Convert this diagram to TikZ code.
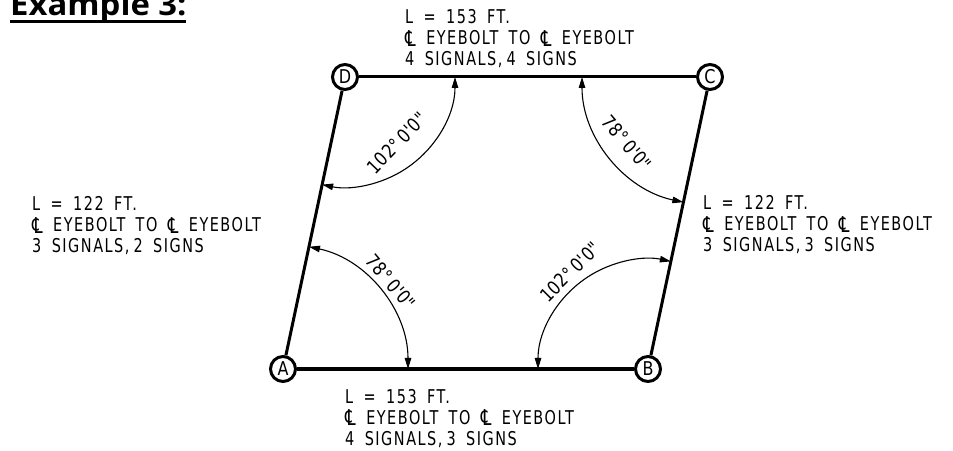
\documentclass[tikz,border=0pt]{standalone}
\usepackage{fontspec}
\usetikzlibrary{arrows.meta,calc}
\setmainfont{Liberation Sans}
\newfontfamily\cadfont[FakeStretch=0.76,LetterSpace=8,WordSpace=1.7]{DejaVu Sans}
\newfontfamily\anglefont[FakeStretch=0.84,LetterSpace=2]{DejaVu Sans}
\newfontfamily\titlefont[FakeStretch=1.06]{Open Sans}
\newcommand{\clsym}{\raisebox{-1.5pt}{\scalebox{1.15}{\char"2104\relax}}}
\tikzset{
  x=1pt,y=1pt,
  cadtext/.style={anchor=base west,inner sep=0pt,font=\cadfont\fontsize{19}{21}\selectfont,text=black},
  anglabel/.style={inner sep=0pt,font=\anglefont\fontsize{19}{21}\selectfont},
  corner/.style={circle,draw=black,line width=3pt,fill=white,minimum size=25pt,inner sep=0pt,font=\anglefont\fontsize{19}{21}\selectfont},
  member/.style={draw=black,line width=3pt},
  dimarc/.style={draw=black,line width=1.1pt,{Stealth[length=11pt,width=6.5pt,inset=0pt]}-{Stealth[length=11pt,width=6.5pt,inset=0pt]}},
}
\begin{document}
\begin{tikzpicture}
\useasboundingbox (0,0) rectangle (953,450);
\node[corner] (A) at (283,81) {A};
\node[corner] (B) at (648,81) {B};
\node[corner] (C) at (710,373) {C};
\node[corner] (D) at (345,373) {D};
\draw[member] (A) -- (B);
\draw[member] (B) -- (C);
\draw[member] (C) -- (D);
\draw[member] (D) -- (A);
\draw[dimarc] ($(A.center)+(0:125)$) arc[start angle=0,end angle=78,radius=125];
\draw[dimarc] ($(B.center)+(180:110)$) arc[start angle=180,end angle=78,radius=110];
\draw[dimarc] ($(C.center)+(180:128)$) arc[start angle=180,end angle=258,radius=128];
\draw[dimarc] ($(D.center)+(0:110)$) arc[start angle=0,end angle=-102,radius=110];
\node[anglabel,rotate=-50] (la) at (391,168) {78°\,0'0"};
\node[anglabel,rotate=45] (lb) at (570,178) {102°\,0'0"};
\node[anglabel,rotate=-50] (lc) at (627,307) {78°\,0'0"};
\node[anglabel,rotate=46] (ld) at (397,307) {102°\,0'0"};
\node[cadtext] (t1) at (405,426) {L = 153 FT.};
\node[cadtext] (t2) at (405,405) {\clsym{} EYEBOLT TO \clsym{} EYEBOLT};
\node[cadtext] (t3) at (405,384) {4 SIGNALS,\hspace{4pt}4 SIGNS};
\node[cadtext] (l1) at (32,239) {L = 122 FT.};
\node[cadtext] (l2) at (32,218) {\clsym{} EYEBOLT TO \clsym{} EYEBOLT};
\node[cadtext] (l3) at (32,197) {3 SIGNALS,\hspace{4pt}2 SIGNS};
\node[cadtext] (r1) at (703,240) {L = 122 FT.};
\node[cadtext] (r2) at (703,219) {\clsym{} EYEBOLT TO \clsym{} EYEBOLT};
\node[cadtext] (r3) at (703,198) {3 SIGNALS,\hspace{4pt}3 SIGNS};
\node[cadtext] (b1) at (345,47) {L = 153 FT.};
\node[cadtext] (b2) at (345,26) {\clsym{} EYEBOLT TO \clsym{} EYEBOLT};
\node[cadtext] (b3) at (345,5) {4 SIGNALS,\hspace{4pt}3 SIGNS};
\node[anchor=base west,inner sep=0pt,font=\titlefont\bfseries\fontsize{31}{33}\selectfont] (title) at (10,434) {Example 3:};
\draw[line width=3pt] (10,428) -- (186,428);
\end{tikzpicture}
\end{document}
